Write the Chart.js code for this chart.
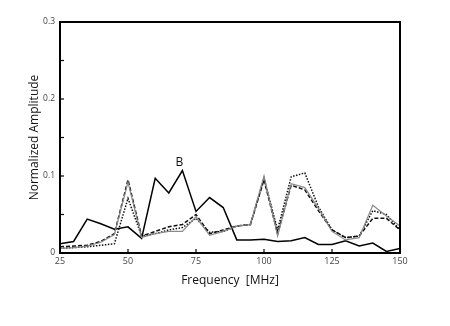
<!DOCTYPE html>
<html>
<head>
<meta charset="utf-8">
<script src="https://cdn.jsdelivr.net/npm/chart.js@4.4.0/dist/chart.umd.min.js"></script>
<style>
  html, body { margin: 0; padding: 0; background: #fff; }
  #wrap { width: 450px; height: 326px; }
</style>
</head>
<body>
<div id="wrap"><canvas id="spectrum"></canvas></div>
<script>
// frequency in MHz, every 5 MHz
var freqs = [25, 30, 35, 40, 45, 50, 55, 60, 65, 70, 75, 80, 85, 90, 95, 100, 105, 110, 115, 120, 125, 130, 135, 140, 145, 150];

var solidB = [0.012, 0.015, 0.044, 0.038, 0.031, 0.034, 0.019, 0.097, 0.078, 0.107, 0.054, 0.072, 0.059, 0.017, 0.017, 0.018, 0.015, 0.016, 0.020, 0.011, 0.011, 0.016, 0.009, 0.013, 0.002, 0.006];
var dotted = [0.006, 0.007, 0.008, 0.010, 0.012, 0.071, 0.022, 0.025, 0.030, 0.033, 0.045, 0.027, 0.028, 0.035, 0.037, 0.097, 0.030, 0.099, 0.104, 0.060, 0.030, 0.020, 0.022, 0.055, 0.050, 0.030];
var dashed = [0.008, 0.009, 0.010, 0.015, 0.025, 0.095, 0.022, 0.028, 0.034, 0.037, 0.050, 0.025, 0.030, 0.035, 0.037, 0.095, 0.025, 0.088, 0.082, 0.055, 0.030, 0.020, 0.022, 0.045, 0.045, 0.030];
var grey = [0.006, 0.007, 0.009, 0.014, 0.024, 0.092, 0.020, 0.025, 0.028, 0.028, 0.047, 0.023, 0.028, 0.035, 0.037, 0.100, 0.022, 0.090, 0.085, 0.058, 0.028, 0.017, 0.020, 0.062, 0.048, 0.035];

var xTicks = [25, 50, 75, 100, 125, 150];
var yTicks = [0, 0.1, 0.2, 0.3];
var yMinor = [0.05, 0.15, 0.25];

function pts(vals) {
    return freqs.map(function (f, i) { return { x: f, y: vals[i] }; });
}

// box frame, inward ticks and the "B" label
var frame = {
    id: 'frame',
    afterDraw: function (chart) {
        var c = chart.ctx, a = chart.chartArea;
        var xs = chart.scales.x, ys = chart.scales.y;
        c.save();
        c.strokeStyle = '#000';
        c.lineWidth = 2;
        c.strokeRect(a.left, a.top, a.right - a.left, a.bottom - a.top);
        c.lineWidth = 1.2;
        xTicks.forEach(function (t) {
            var px = xs.getPixelForValue(t);
            c.beginPath(); c.moveTo(px, a.bottom); c.lineTo(px, a.bottom - 4); c.stroke();
        });
        yTicks.concat(yMinor).forEach(function (t) {
            var py = ys.getPixelForValue(t);
            c.beginPath(); c.moveTo(a.left, py); c.lineTo(a.left + 4, py); c.stroke();
        });
        c.fillStyle = '#111';
        c.font = '12px "Open Sans"';
        c.textAlign = 'center';
        c.textBaseline = 'bottom';
        c.fillText('B', xs.getPixelForValue(70) - 3, ys.getPixelForValue(0.107) - 2);
        c.restore();
    }
};

var ctx = document.getElementById('spectrum');
var myChart = new Chart(ctx, {
    type: 'line',
    data: {
        datasets: [{
            label: 'grey',
            data: pts(grey),
            borderColor: '#8a8a8a',
            borderWidth: 1.2,
            pointRadius: 0,
            tension: 0
        }, {
            label: 'dashed',
            data: pts(dashed),
            borderColor: '#111',
            borderWidth: 1.5,
            borderDash: [4, 2],
            pointRadius: 0,
            tension: 0
        }, {
            label: 'dotted',
            data: pts(dotted),
            borderColor: '#111',
            borderWidth: 1.5,
            borderDash: [1.5, 1.5],
            pointRadius: 0,
            tension: 0
        }, {
            label: 'B',
            data: pts(solidB),
            borderColor: '#000',
            borderWidth: 1.5,
            pointRadius: 0,
            tension: 0
        }]
    },
    options: {
        responsive: true,
        maintainAspectRatio: false,
        animation: false,
        layout: { padding: { left: 23, right: 50, top: 22, bottom: 38 } },
        plugins: { legend: { display: false }, tooltip: { enabled: false } },
        scales: {
            x: {
                type: 'linear',
                min: 25,
                max: 150,
                afterBuildTicks: function (s) { s.ticks = xTicks.map(function (v) { return { value: v }; }); },
                grid: { display: false, drawTicks: false },
                border: { display: false },
                ticks: { color: '#444', font: { size: 9, family: '"Open Sans"' }, padding: 3, maxRotation: 0 },
                title: { display: true, text: 'Frequency  [MHz]', color: '#111', font: { size: 12, family: '"Open Sans"' }, padding: 0 },
                afterFit: function (s) { s.height = 35; }
            },
            y: {
                min: 0,
                max: 0.3,
                afterBuildTicks: function (s) { s.ticks = yTicks.map(function (v) { return { value: v }; }); },
                grid: { display: false, drawTicks: false },
                border: { display: false },
                ticks: { color: '#444', font: { size: 8.5, family: '"Open Sans"' }, padding: 5 },
                title: { display: true, text: 'Normalized Amplitude', color: '#111', font: { size: 12, family: '"Open Sans"' }, padding: { bottom: 2 } },
                afterFit: function (s) { s.width = 37; }
            }
        }
    },
    plugins: [frame]
});
</script>
</body>
</html>
